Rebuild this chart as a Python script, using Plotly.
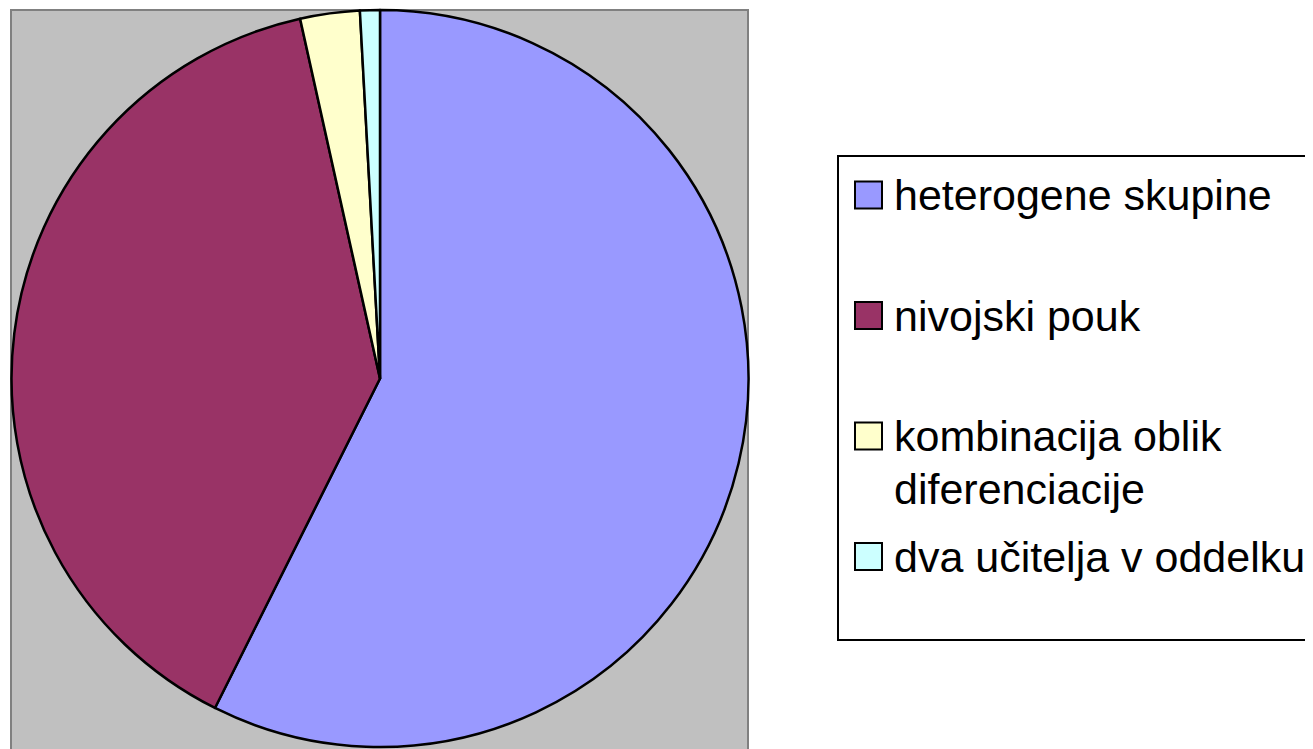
import plotly.graph_objects as go

labels = ["heterogene skupine", "nivojski pouk", "kombinacija oblik diferenciacije", "dva učitelja v oddelku"]
legend_lines = [["heterogene skupine"], ["nivojski pouk"], ["kombinacija oblik", "diferenciacije"], ["dva učitelja v oddelku"]]
values = [66, 45, 3, 1]
colors = ["#9999FF", "#993366", "#FFFFCC", "#CCFFFF"]

W, H = 1313, 749
OFF = 8  # page body margin
def px(x):
    return (x - OFF) / W
def py(y):
    return 1 - (y - OFF) / H

fig = go.Figure()
fig.add_trace(go.Pie(
    labels=labels, values=values, sort=False, direction="clockwise", rotation=0,
    marker=dict(colors=colors, line=dict(color="#000000", width=2.5)),
    textinfo="none", showlegend=False,
    domain=dict(x=[px(11), px(749)], y=[py(747), py(10)]),
))

shapes = [
    dict(type="rect", xref="paper", yref="paper", x0=px(11), x1=px(748), y0=py(780), y1=py(10),
         fillcolor="#C0C0C0", line=dict(color="#808080", width=2), layer="below"),
    dict(type="rect", xref="paper", yref="paper", x0=px(838), x1=px(1340), y0=py(640), y1=py(156),
         fillcolor="rgba(0,0,0,0)", line=dict(color="#000000", width=2), layer="above"),
]
annotations = []
marker_centers = [195, 315.5, 436, 556.5]
for lines, col, cy in zip(legend_lines, colors, marker_centers):
    shapes.append(dict(type="rect", xref="paper", yref="paper", x0=px(855), x1=px(882),
                       y0=py(cy + 13.5), y1=py(cy - 13.5), fillcolor=col,
                       line=dict(color="#000000", width=2), layer="above"))
    for i, line in enumerate(lines):
        annotations.append(dict(text=line, xref="paper", yref="paper", x=px(892), y=py(cy + i * 53),
                                xanchor="left", yanchor="middle", showarrow=False,
                                font=dict(family="Liberation Sans, Arial", size=43, color="#000000")))

fig.update_layout(
    width=W, height=H, margin=dict(l=0, r=0, t=0, b=0),
    paper_bgcolor="#FFFFFF", plot_bgcolor="#FFFFFF",
    shapes=shapes, annotations=annotations,
)
fig.write_html("out.html")
